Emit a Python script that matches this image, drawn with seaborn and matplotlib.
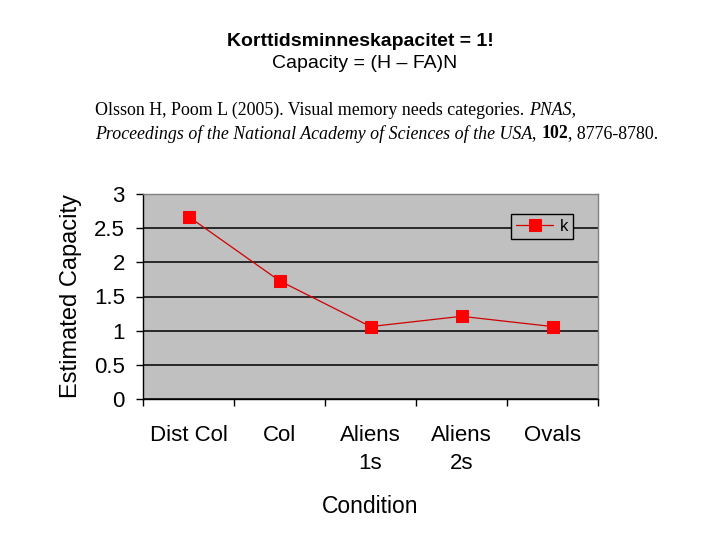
import matplotlib
matplotlib.use("Agg")
import matplotlib.pyplot as plt
from matplotlib.ticker import FixedLocator, NullFormatter
import seaborn as sns
import pandas as pd

# Data
conditions = ["Dist Col", "Col", "Aliens\n1s", "Aliens\n2s", "Ovals"]
capacity_k = [2.67, 1.73, 1.06, 1.21, 1.06]
y_ticks = [0, 0.5, 1, 1.5, 2, 2.5, 3]

title_line1 = "Korttidsminneskapacitet = 1!"
title_line2 = "Capacity = (H \u2013 FA)N"
cite_line1 = [("Olsson H, Poom L (2005). Visual memory needs categories. ", "normal", "normal"),
              ("PNAS,", "italic", "normal")]
cite_line2 = [("Proceedings of the National Academy of Sciences of the USA", "italic", "normal"),
              (", ", "normal", "normal"),
              ("102", "normal", "bold"),
              (", 8776-8780.", "normal", "normal")]

df = pd.DataFrame({"Condition": conditions, "k": capacity_k})

sns.set_style("white")
plt.rcParams["font.family"] = ["Liberation Sans", "DejaVu Sans"]
plt.rcParams["text.color"] = "black"
plt.rcParams["axes.labelcolor"] = "black"
plt.rcParams["xtick.color"] = "black"
plt.rcParams["ytick.color"] = "black"

W, H = 720, 540
fig = plt.figure(figsize=(7.2, 5.4), dpi=100)
ax = fig.add_axes([143 / W, 1 - 399 / H, 455 / W, 205 / H])
ax.set_facecolor("#c0c0c0")

sns.lineplot(data=df, x="Condition", y="k", sort=False, ax=ax, label="k",
             color="#d00000", linewidth=0.9, marker="s", markersize=8.5,
             markerfacecolor="#ff0000", markeredgecolor="#ff0000", zorder=3)

n = len(conditions)
ax.set_xlim(-0.5, n - 0.5)
ax.set_ylim(0, 3)
ax.set_yticks(y_ticks)
ax.set_yticklabels([f"{v:g}" for v in y_ticks])
ax.yaxis.grid(True, color="black", linewidth=1.1)
ax.xaxis.grid(False)

# category labels between boundary ticks, like the spreadsheet chart
ax.xaxis.set_major_locator(FixedLocator([i - 0.5 for i in range(n + 1)]))
ax.xaxis.set_major_formatter(NullFormatter())
ax.xaxis.set_minor_locator(FixedLocator(list(range(n))))
ax.set_xticklabels(conditions, minor=True, linespacing=1.4)
ax.tick_params(axis="x", which="major", direction="out", length=5, width=1, color="black", bottom=True)
ax.tick_params(axis="x", which="minor", length=0, pad=19, labelsize=16)
ax.tick_params(axis="y", direction="out", length=5, width=1, color="black", pad=8, labelsize=16, left=True)

for side in ["top", "right"]:
    ax.spines[side].set_color("#808080")
    ax.spines[side].set_linewidth(1)
for side in ["left", "bottom"]:
    ax.spines[side].set_color("black")
    ax.spines[side].set_linewidth(1)

ax.set_xlabel("Condition", fontsize=16.5)
ax.set_ylabel("Estimated Capacity", fontsize=17)
ax.xaxis.set_label_coords(0.5, -0.47)
ax.yaxis.set_label_coords(-0.133, 0.5)

leg = ax.legend(loc="upper right", bbox_to_anchor=(0.945, 0.902), borderaxespad=0,
                frameon=True, fancybox=False, fontsize=12, handlelength=2.2,
                borderpad=0.3, handletextpad=0.4)
leg.get_frame().set_edgecolor("black")
leg.get_frame().set_facecolor("#c0c0c0")
leg.get_frame().set_linewidth(1)
leg.get_frame().set_alpha(1)

fig.text(360 / W, 1 - 41 / H, title_line1, ha="center", va="center", fontsize=14, fontweight="bold")
fig.text(365 / W, 1 - 64 / H, title_line2, ha="center", va="center", fontsize=14)

# citation with mixed styles, placed run by run
renderer = fig.canvas.get_renderer()


def rich_line(x_px, y_px, runs):
    for s, style, weight in runs:
        t = fig.text(x_px / W, 1 - y_px / H, s, ha="left", va="center",
                     fontsize=12.9, family="Liberation Serif", fontstyle=style, fontweight=weight)
        bb = t.get_window_extent(renderer)
        x_px += bb.width


rich_line(95, 110, cite_line1)
rich_line(95, 134, cite_line2)

fig.savefig("out.png", dpi=100)
